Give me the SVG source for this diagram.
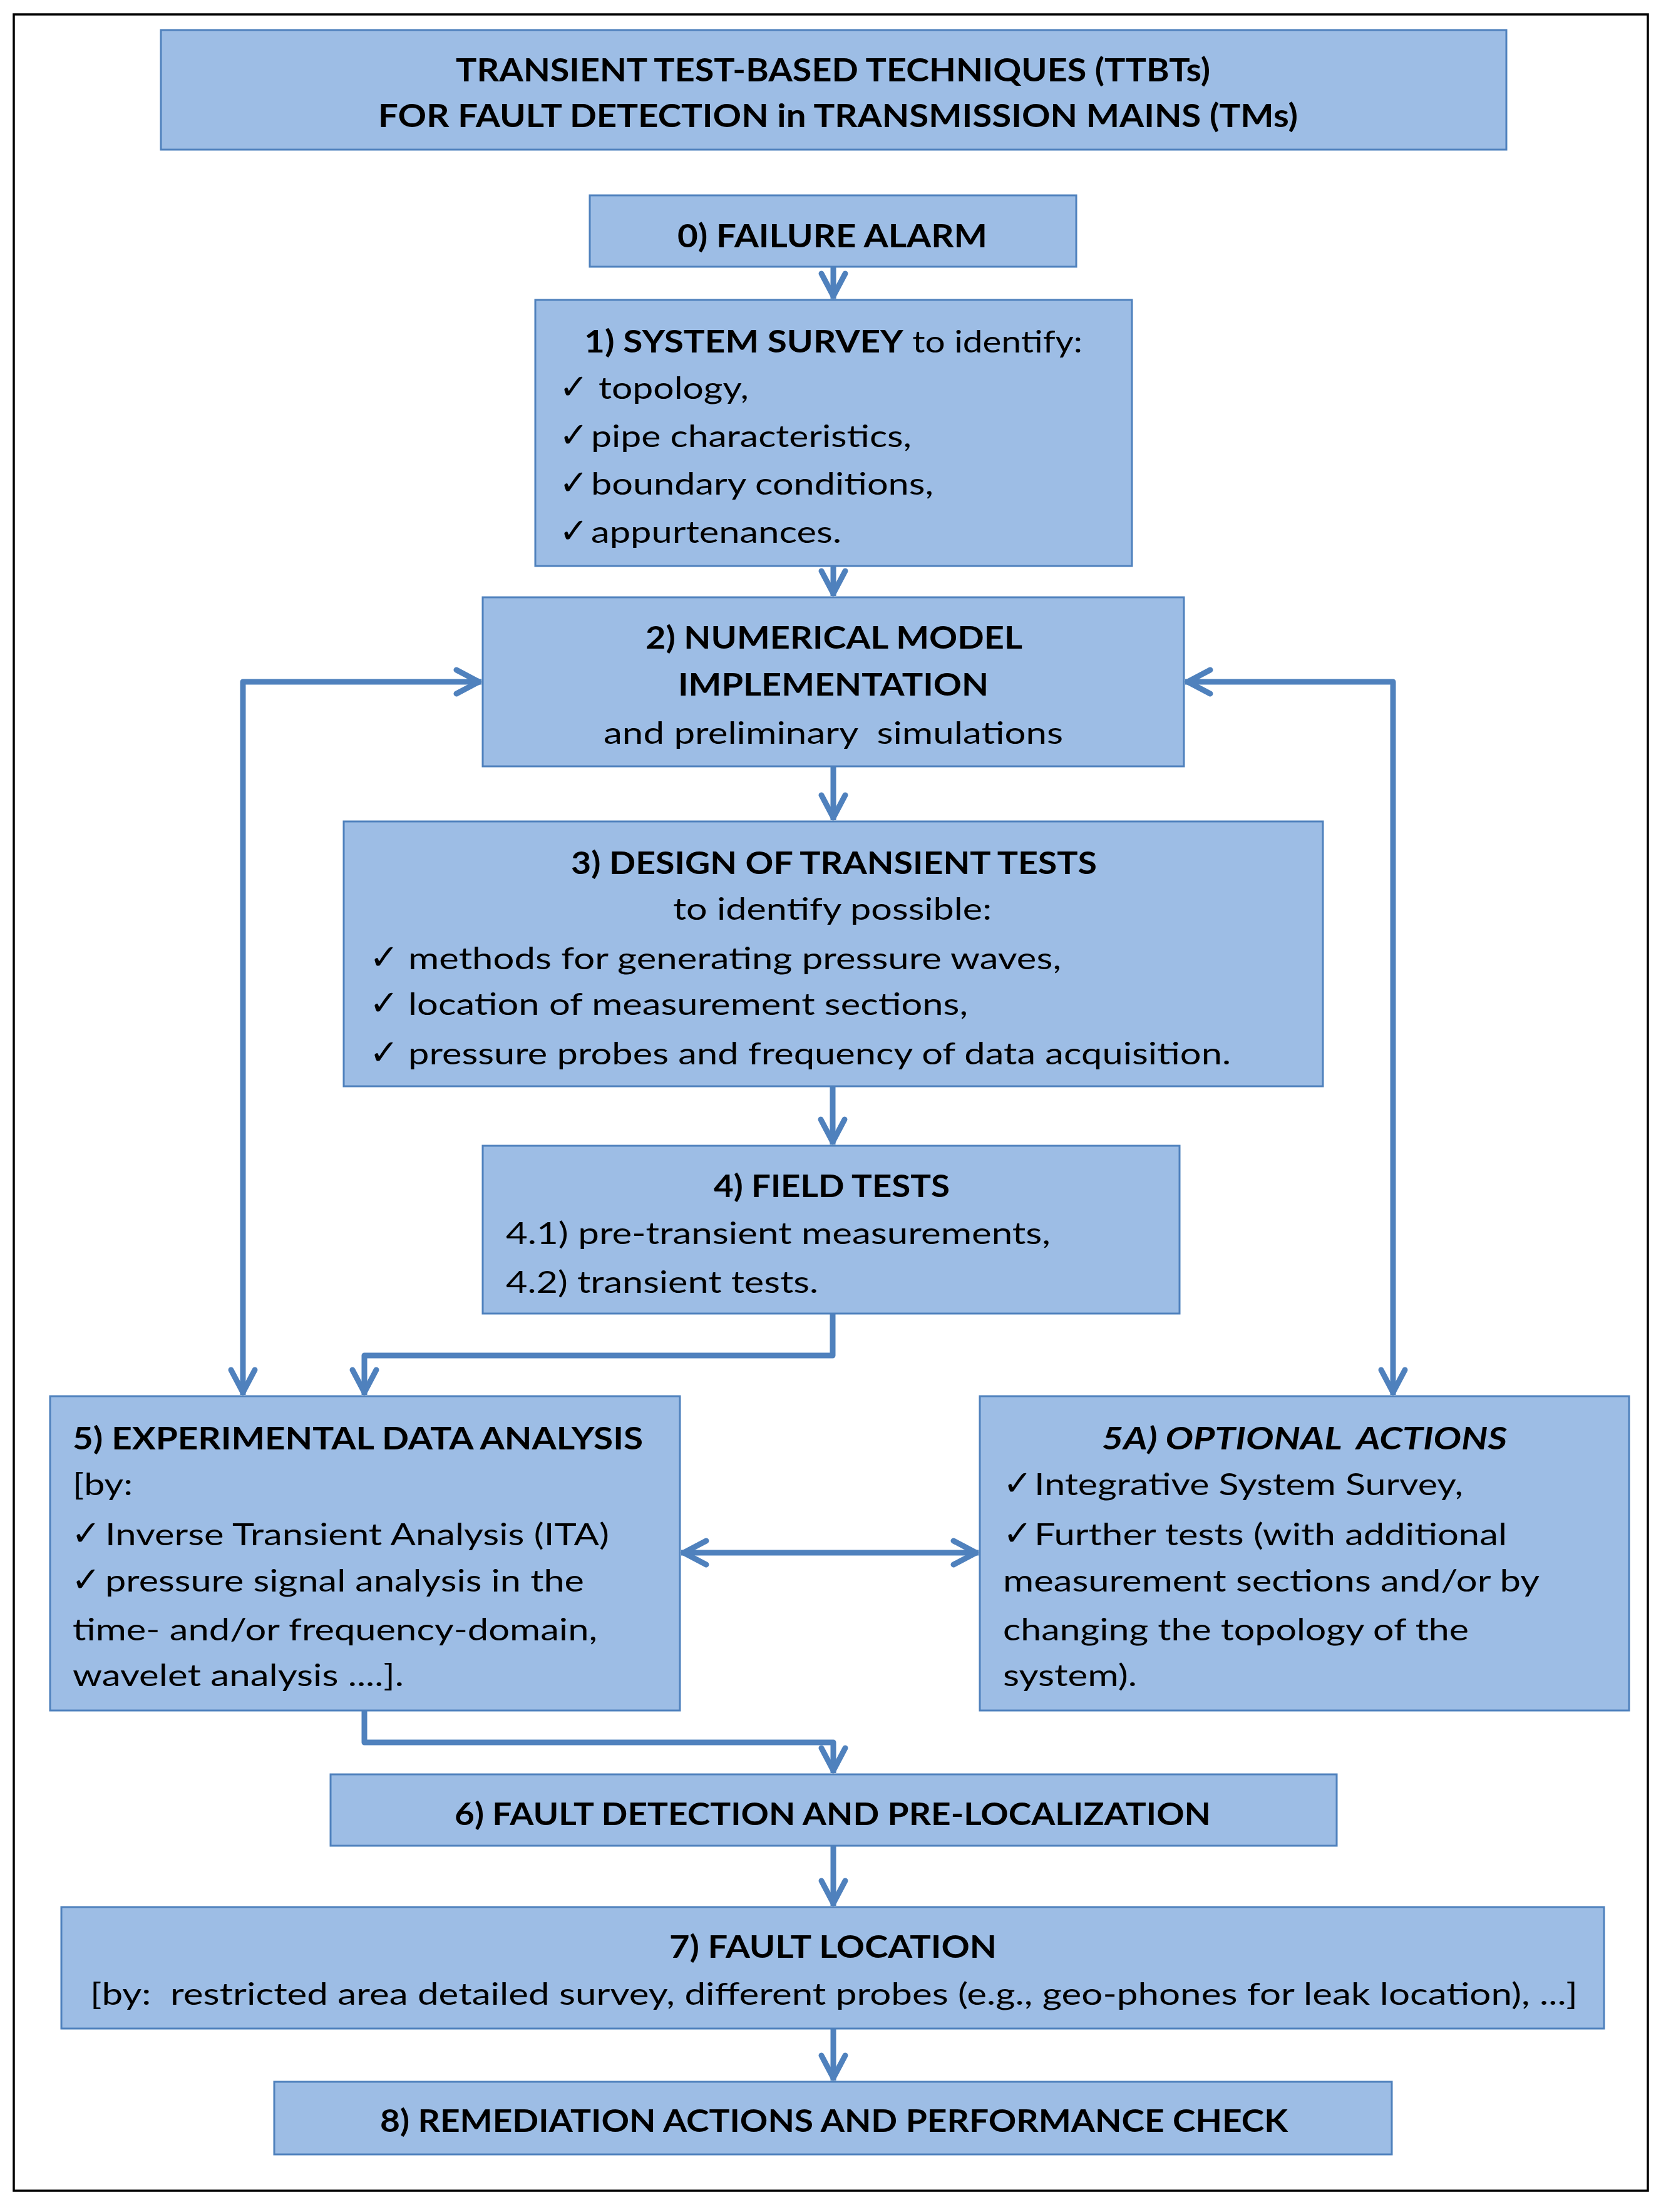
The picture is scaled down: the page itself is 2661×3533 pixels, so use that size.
<svg xmlns="http://www.w3.org/2000/svg" width="2661" height="3533" viewBox="0 0 2661 3533">
<style>
.node{fill:#9dbde5;stroke:#4f81bd;stroke-width:3}
.t{font-family:Lato,"Liberation Sans","DejaVu Sans",sans-serif;font-size:49px;fill:#000;white-space:pre}
.h{font-size:52px}
.b{font-weight:bold}
.i{font-style:italic}
.ck{font-family:"DejaVu Sans",sans-serif;font-size:56px;fill:#000}
.con{fill:none;stroke:#4f81bd;stroke-width:9;stroke-linejoin:round}
</style>
<defs>
<marker id="ah" markerUnits="userSpaceOnUse" viewBox="-50 -30 60 60" markerWidth="60" markerHeight="60" refX="0" refY="0" orient="auto-start-reverse">
<path d="M -40 -19 L -4 0 L -40 19" fill="none" stroke="#4f81bd" stroke-width="9" stroke-linecap="round" stroke-linejoin="round"/>
</marker>
</defs>
<rect x="0" y="0" width="2661" height="3533" fill="#fff"/>
<rect x="22" y="23" width="2610" height="3476" fill="none" stroke="#000" stroke-width="3.5"/>

<g id="connectors">
<path class="con" d="M1331 426 L1331 477" marker-end="url(#ah)"/>
<path class="con" d="M1331 904 L1331 952" marker-end="url(#ah)"/>
<path class="con" d="M1331 1224 L1331 1310" marker-end="url(#ah)"/>
<path class="con" d="M1330 1735 L1330 1828" marker-end="url(#ah)"/>
<path class="con" d="M1330 2098 L1330 2165 L582 2165 L582 2228" marker-end="url(#ah)"/>
<path class="con" d="M388 2228 L388 1089 L769 1089" marker-start="url(#ah)" marker-end="url(#ah)"/>
<path class="con" d="M1893 1089 L2225 1089 L2225 2228" marker-start="url(#ah)" marker-end="url(#ah)"/>
<path class="con" d="M1088 2480 L1563 2480" marker-start="url(#ah)" marker-end="url(#ah)"/>
<path class="con" d="M582 2732 L582 2783 L1331 2783 L1331 2832" marker-end="url(#ah)"/>
<path class="con" d="M1331 2948 L1331 3044" marker-end="url(#ah)"/>
<path class="con" d="M1331 3240 L1331 3323" marker-end="url(#ah)"/>
</g>

<g id="title">
<rect class="node" x="257" y="48" width="2149" height="191"/>
<text class="t h b" x="728" y="130" textLength="1205" lengthAdjust="spacingAndGlyphs">TRANSIENT TEST-BASED TECHNIQUES (TTBTs)</text>
<text class="t h b" x="604" y="203" textLength="1469" lengthAdjust="spacingAndGlyphs">FOR FAULT DETECTION in TRANSMISSION MAINS (TMs)</text>
</g>

<g id="node0">
<rect class="node" x="942" y="312" width="777" height="114"/>
<text class="t h b" x="1082" y="395" textLength="495" lengthAdjust="spacingAndGlyphs">0) FAILURE ALARM</text>
</g>

<g id="node1">
<rect class="node" x="855" y="479" width="953" height="425"/>
<text class="t" x="933" y="563" textLength="796" lengthAdjust="spacingAndGlyphs"><tspan class="b">1) SYSTEM SURVEY</tspan> to identify:</text>
<text class="ck" x="893" y="637">✓</text>
<text class="t" x="956" y="637" textLength="240" lengthAdjust="spacingAndGlyphs">topology,</text>
<text class="ck" x="893" y="714">✓</text>
<text class="t" x="944" y="714" textLength="512" lengthAdjust="spacingAndGlyphs">pipe characteristics,</text>
<text class="ck" x="893" y="790">✓</text>
<text class="t" x="944" y="790" textLength="547" lengthAdjust="spacingAndGlyphs">boundary conditions,</text>
<text class="ck" x="893" y="867">✓</text>
<text class="t" x="944" y="867" textLength="400" lengthAdjust="spacingAndGlyphs">appurtenances.</text>
</g>

<g id="node2">
<rect class="node" x="771" y="954" width="1120" height="270"/>
<text class="t b" x="1031" y="1036" textLength="602" lengthAdjust="spacingAndGlyphs">2) NUMERICAL MODEL</text>
<text class="t b" x="1083" y="1111" textLength="496" lengthAdjust="spacingAndGlyphs">IMPLEMENTATION</text>
<text class="t" x="964" y="1188" textLength="734" lengthAdjust="spacingAndGlyphs">and preliminary  simulations</text>
</g>

<g id="node3">
<rect class="node" x="549" y="1312" width="1564" height="423"/>
<text class="t b" x="912" y="1396" textLength="840" lengthAdjust="spacingAndGlyphs">3) DESIGN OF TRANSIENT TESTS</text>
<text class="t" x="1075" y="1469" textLength="509" lengthAdjust="spacingAndGlyphs">to identify possible:</text>
<text class="ck" x="590" y="1548">✓</text>
<text class="t" x="652" y="1548" textLength="1043" lengthAdjust="spacingAndGlyphs">methods for generating pressure waves,</text>
<text class="ck" x="590" y="1621">✓</text>
<text class="t" x="652" y="1621" textLength="894" lengthAdjust="spacingAndGlyphs">location of measurement sections,</text>
<text class="ck" x="590" y="1700">✓</text>
<text class="t" x="652" y="1700" textLength="1314" lengthAdjust="spacingAndGlyphs">pressure probes and frequency of data acquisition.</text>
</g>

<g id="node4">
<rect class="node" x="771" y="1830" width="1113" height="268"/>
<text class="t b" x="1140" y="1912" textLength="377" lengthAdjust="spacingAndGlyphs">4) FIELD TESTS</text>
<text class="t" x="808" y="1987" textLength="870" lengthAdjust="spacingAndGlyphs">4.1) pre-transient measurements,</text>
<text class="t" x="808" y="2065" textLength="499" lengthAdjust="spacingAndGlyphs">4.2) transient tests.</text>
</g>

<g id="node5">
<rect class="node" x="80" y="2230" width="1006" height="502"/>
<text class="t b" x="116" y="2315" textLength="911" lengthAdjust="spacingAndGlyphs">5) EXPERIMENTAL DATA ANALYSIS</text>
<text class="t" x="116" y="2388" textLength="96" lengthAdjust="spacingAndGlyphs">[by:</text>
<text class="ck" x="114" y="2468">✓</text>
<text class="t" x="168" y="2468" textLength="805" lengthAdjust="spacingAndGlyphs">Inverse Transient Analysis (ITA)</text>
<text class="ck" x="114" y="2542">✓</text>
<text class="t" x="168" y="2542" textLength="765" lengthAdjust="spacingAndGlyphs">pressure signal analysis in the</text>
<text class="t" x="116" y="2620" textLength="838" lengthAdjust="spacingAndGlyphs">time- and/or frequency-domain,</text>
<text class="t" x="116" y="2693" textLength="529" lengthAdjust="spacingAndGlyphs">wavelet analysis ....].</text>
</g>

<g id="node5A">
<rect class="node" x="1565" y="2230" width="1037" height="502"/>
<text class="t b i" x="1760" y="2315" textLength="647" lengthAdjust="spacingAndGlyphs">5A) OPTIONAL  ACTIONS</text>
<text class="ck" x="1602" y="2388">✓</text>
<text class="t" x="1652" y="2388" textLength="685" lengthAdjust="spacingAndGlyphs">Integrative System Survey,</text>
<text class="ck" x="1602" y="2468">✓</text>
<text class="t" x="1652" y="2468" textLength="755" lengthAdjust="spacingAndGlyphs">Further tests (with additional</text>
<text class="t" x="1602" y="2542" textLength="857" lengthAdjust="spacingAndGlyphs">measurement sections and/or by</text>
<text class="t" x="1602" y="2620" textLength="744" lengthAdjust="spacingAndGlyphs">changing the topology of the</text>
<text class="t" x="1602" y="2693" textLength="214" lengthAdjust="spacingAndGlyphs">system).</text>
</g>

<g id="node6">
<rect class="node" x="528" y="2834" width="1607" height="114"/>
<text class="t b" x="726" y="2915" textLength="1208" lengthAdjust="spacingAndGlyphs">6) FAULT DETECTION AND PRE-LOCALIZATION</text>
</g>

<g id="node7">
<rect class="node" x="98" y="3046" width="2464" height="194"/>
<text class="t b" x="1069" y="3127" textLength="523" lengthAdjust="spacingAndGlyphs">7) FAULT LOCATION</text>
<text class="t" x="144" y="3202" textLength="2376" lengthAdjust="spacingAndGlyphs">[by:  restricted area detailed survey, different probes (e.g., geo-phones for leak location), ...]</text>
</g>

<g id="node8">
<rect class="node" x="438" y="3325" width="1785" height="116"/>
<text class="t b" x="607" y="3405" textLength="1450" lengthAdjust="spacingAndGlyphs">8) REMEDIATION ACTIONS AND PERFORMANCE CHECK</text>
</g>
</svg>
